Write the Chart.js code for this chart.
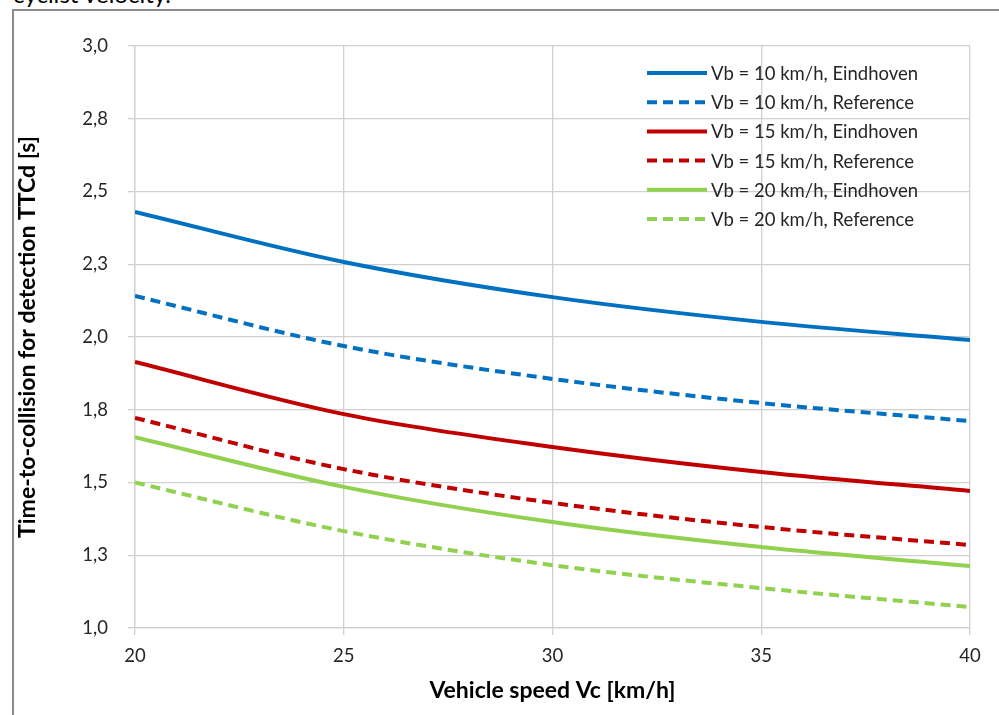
<!DOCTYPE html>
<html>
<head>
<meta charset="utf-8">
<script src="https://cdn.jsdelivr.net/npm/chart.js@4.4.1/dist/chart.umd.min.js"></script>
<style>
  body { margin: 0; background: #fff; }
  #wrap { position: relative; width: 999px; height: 715px; overflow: hidden; }
  #caption { position: absolute; left: 13px; top: -19px; font: 24px Lato, sans-serif; line-height: 26px; color: #000; }
  #frame { position: absolute; left: 12px; top: 9px; width: 1100px; height: 800px; border-left: 2px solid #8c8c8c; border-top: 2px solid #8c8c8c; }
  canvas { position: absolute; left: 0; top: 0; }
</style>
</head>
<body>
<div id="wrap">
  <div id="caption">cyclist velocity.</div>
  <div id="frame"></div>
  <canvas id="chart" width="999" height="715"></canvas>
</div>
<script>
// vehicle speed Vc [km/h]
var speeds = [20, 25, 30, 35, 40];
// TTCd [s]
var vb10Eindhoven = [2.430, 2.258, 2.137, 2.052, 1.990];
var vb10Reference = [2.141, 1.969, 1.856, 1.773, 1.711];
var vb15Eindhoven = [1.914, 1.735, 1.622, 1.536, 1.471];
var vb15Reference = [1.722, 1.546, 1.430, 1.347, 1.285];
var vb20Eindhoven = [1.656, 1.485, 1.364, 1.278, 1.213];
var vb20Reference = [1.500, 1.333, 1.216, 1.137, 1.072];

var yTicks = [1.0, 1.25, 1.5, 1.75, 2.0, 2.25, 2.5, 2.75, 3.0];
var yTickLabels = ['1,0', '1,3', '1,5', '1,8', '2,0', '2,3', '2,5', '2,8', '3,0'];
var xTicks = [20, 25, 30, 35, 40];

var blue = 'rgb(0,112,192)';
var red = 'rgb(192,0,0)';
var green = 'rgb(146,208,80)';
var gridColor = '#d0d0d0';
var font = 'Lato, sans-serif';

function pts(values) {
	var out = [];
	for (var i in speeds) {
		out.push({x: speeds[i], y: values[i]});
	}
	return out;
}

function series(label, values, color, dashed) {
	return {
		label: label,
		data: pts(values),
		borderColor: color,
		backgroundColor: color,
		borderWidth: 4,
		borderDash: dashed ? [10, 6] : [],
		pointRadius: 0,
		cubicInterpolationMode: 'monotone',
		fill: false
	};
}

// legend drawn inside the plot, top right
var innerLegend = {
	id: 'innerLegend',
	afterDatasetsDraw: function(chart) {
		var ctx = chart.ctx;
		var area = chart.chartArea;
		var x0 = area.right - 323;
		var y0 = area.top + 27;
		ctx.save();
		ctx.font = '18.5px ' + font;
		ctx.textBaseline = 'middle';
		chart.data.datasets.forEach(function(ds, i) {
			var y = y0 + i * 29.2;
			ctx.strokeStyle = ds.borderColor;
			ctx.lineWidth = 4;
			ctx.setLineDash(ds.borderDash);
			ctx.beginPath();
			ctx.moveTo(x0, y);
			ctx.lineTo(x0 + 60, y);
			ctx.stroke();
			ctx.setLineDash([]);
			ctx.fillStyle = '#262626';
			ctx.fillText(ds.label, x0 + 64, y + 1);
		});
		ctx.restore();
	}
};

var ctx = document.getElementById('chart');
var chart = new Chart(ctx, {
	type: 'line',
	data: {
		datasets: [
			series('Vb = 10 km/h, Eindhoven', vb10Eindhoven, blue, false),
			series('Vb = 10 km/h, Reference', vb10Reference, blue, true),
			series('Vb = 15 km/h, Eindhoven', vb15Eindhoven, red, false),
			series('Vb = 15 km/h, Reference', vb15Reference, red, true),
			series('Vb = 20 km/h, Eindhoven', vb20Eindhoven, green, false),
			series('Vb = 20 km/h, Reference', vb20Reference, green, true)
		]
	},
	options: {
		responsive: false,
		animation: false,
		layout: { padding: { left: 0, right: 29, top: 46, bottom: 0 } },
		plugins: {
			legend: { display: false },
			tooltip: { enabled: false }
		},
		scales: {
			x: {
				type: 'linear',
				min: 20,
				max: 40,
				afterBuildTicks: function(axis) {
					axis.ticks = xTicks.map(function(v) { return {value: v}; });
				},
				afterFit: function(axis) { axis.height = 87; },
				grid: { color: gridColor, lineWidth: 1.3, tickLength: 7 },
				border: { color: gridColor, width: 1.3 },
				ticks: {
					padding: 10,
					color: '#262626',
					font: { family: font, size: 18.5 }
				},
				title: {
					display: true,
					text: 'Vehicle speed Vc [km/h]',
					color: '#000',
					font: { family: font, size: 23, weight: 'bold' },
					padding: { top: 0, bottom: 11 }
				}
			},
			y: {
				min: 1.0,
				max: 3.0,
				afterBuildTicks: function(axis) {
					axis.ticks = yTicks.map(function(v) { return {value: v}; });
				},
				afterFit: function(axis) { axis.width = 135; },
				grid: { color: gridColor, lineWidth: 1.3, tickLength: 7 },
				border: { color: gridColor, width: 1.3 },
				ticks: {
					padding: 20,
					color: '#262626',
					font: { family: font, size: 18.5 },
					callback: function(value) {
						var i = yTicks.indexOf(value);
						return i >= 0 ? yTickLabels[i] : '';
					}
				},
				title: {
					display: true,
					text: 'Time-to-collision for detection TTCd [s]',
					color: '#000',
					font: { family: font, size: 23, weight: 'bold' },
					padding: { top: 14, bottom: 0 }
				}
			}
		}
	},
	plugins: [innerLegend]
});
</script>
</body>
</html>
